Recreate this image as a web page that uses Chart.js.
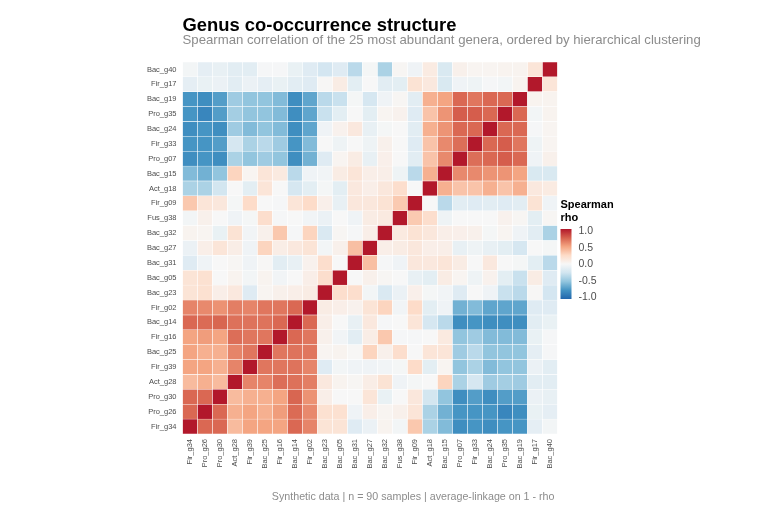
<!DOCTYPE html>
<html>
<head>
<meta charset="utf-8">
<script src="https://cdn.jsdelivr.net/npm/chart.js@4.4.1/dist/chart.umd.min.js"></script>
<style>
  html, body { margin: 0; padding: 0; background: #ffffff; }
</style>
</head>
<body>
<canvas id="heat" width="760" height="506"></canvas>
<script>
// Genera in clustering order (left to right, bottom to top)
const genera = [
  'Fir_g34', 'Pro_g26', 'Pro_g30', 'Act_g28', 'Fir_g39', 'Bac_g25', 'Fir_g16', 'Bac_g14', 'Fir_g02',
  'Bac_g23', 'Bac_g05', 'Bac_g31', 'Bac_g27', 'Bac_g32', 'Fus_g38', 'Fir_g09', 'Act_g18',
  'Bac_g15', 'Pro_g07', 'Fir_g33', 'Bac_g24', 'Pro_g35', 'Bac_g19', 'Fir_g17', 'Bac_g40'
];

// Lower triangle of the Spearman matrix: row r holds rho(r, 0..r)
const rhoLower = [
  [1],
  [0.72, 1],
  [0.72, 0.72, 1],
  [0.40, 0.45, 0.40, 1],
  [0.50, 0.50, 0.45, 0.62, 1],
  [0.50, 0.45, 0.45, 0.62, 0.67, 1],
  [0.50, 0.53, 0.50, 0.70, 0.67, 0.67, 1],
  [0.72, 0.71, 0.73, 0.69, 0.68, 0.68, 0.72, 1],
  [0.62, 0.60, 0.57, 0.64, 0.62, 0.67, 0.67, 0.72, 1],
  [0.17, 0.20, 0.08, 0.13, -0.16, 0.03, 0.06, 0.08, 0.10, 1],
  [0.17, 0.20, 0.00, 0.04, -0.03, 0.04, -0.04, 0.00, 0.08, 0.22, 1],
  [-0.16, -0.05, 0.00, 0.02, -0.05, 0.01, -0.14, -0.10, 0.05, 0.22, 0.00, 1],
  [-0.08, 0.08, 0.16, 0.09, -0.05, 0.28, 0.09, 0.13, 0.17, -0.03, 0.06, 0.38, 1],
  [0.04, 0.03, -0.09, 0.18, -0.04, 0.06, 0.34, -0.01, 0.28, -0.19, 0.02, -0.01, 0.08, 1],
  [-0.03, 0.06, 0.00, -0.05, -0.02, 0.22, -0.01, 0.00, -0.04, -0.08, 0.00, -0.05, 0.10, 0.12, 1],
  [0.34, 0.16, 0.14, -0.02, 0.24, 0.00, -0.01, 0.16, 0.24, 0.07, -0.10, 0.14, 0.14, 0.18, 0.33, 1],
  [-0.40, -0.40, -0.24, 0.00, -0.13, 0.16, 0.00, -0.22, -0.13, -0.02, -0.13, 0.13, 0.08, 0.14, 0.22, 0.00, 1],
  [-0.55, -0.60, -0.50, 0.28, 0.03, 0.16, 0.12, -0.34, -0.05, -0.04, 0.10, 0.16, 0.08, 0.08, -0.06, -0.34, 0.45, 1],
  [-0.78, -0.74, -0.78, -0.40, -0.50, -0.45, -0.50, -0.78, -0.60, -0.16, 0.03, 0.10, -0.10, 0.07, 0.00, -0.14, 0.36, 0.60, 1],
  [-0.74, -0.74, -0.70, -0.22, -0.40, -0.34, -0.45, -0.74, -0.55, 0.00, -0.06, 0.00, -0.06, 0.06, 0.00, -0.16, 0.36, 0.60, 0.70, 1],
  [-0.78, -0.74, -0.78, -0.45, -0.55, -0.50, -0.55, -0.78, -0.66, -0.05, 0.05, 0.13, -0.10, -0.02, 0.00, -0.14, 0.45, 0.56, 0.72, 0.72, 1],
  [-0.74, -0.82, -0.70, -0.43, -0.50, -0.50, -0.55, -0.78, -0.66, -0.28, -0.13, 0.00, -0.13, 0.03, 0.05, -0.16, 0.36, 0.56, 0.76, 0.76, 0.72, 1],
  [-0.74, -0.78, -0.70, -0.45, -0.50, -0.50, -0.55, -0.78, -0.66, -0.34, -0.28, -0.02, -0.22, -0.05, 0.02, -0.14, 0.45, 0.50, 0.72, 0.67, 0.72, 0.72, 1],
  [-0.12, -0.09, -0.08, -0.14, -0.08, -0.12, -0.09, -0.14, -0.16, 0.01, 0.10, -0.13, 0.00, -0.14, -0.13, 0.18, 0.13, -0.20, -0.05, -0.06, -0.01, -0.03, 0.04, 1],
  [-0.03, -0.12, -0.10, -0.14, -0.14, -0.01, -0.01, -0.09, -0.16, -0.23, -0.16, -0.34, -0.02, -0.40, 0.02, -0.05, 0.11, -0.20, 0.06, 0.03, 0.03, 0.04, 0.04, 0.16, 1]
];

// Colour bar ticks
const legendTicks = [1.0, 0.5, 0.0, -0.5, -1.0];

// Texts
const titleText = 'Genus co-occurrence structure';
const subtitleText = 'Spearman correlation of the 25 most abundant genera, ordered by hierarchical clustering';
const captionText = 'Synthetic data | n = 90 samples | average-linkage on 1 - rho';
const legendTitle = ['Spearman', 'rho'];

// RdBu, from -1 to 1
const palette = ['#2166ac', '#4393c3', '#92c5de', '#d1e5f0', '#f7f7f7', '#fddbc7', '#f4a582', '#d6604d', '#b2182b'];
const FONT = '"Liberation Sans", Arial, Helvetica, sans-serif';

// symmetric lookup
const rho = (r, c) => (r >= c ? rhoLower[r][c] : rhoLower[c][r]);

const hexToRgb = (h) => [1, 3, 5].map(i => parseInt(h.slice(i, i + 2), 16));

const colorFor = (v) => {
  const t = (Math.max(-1, Math.min(1, v)) + 1) / 2 * (palette.length - 1);
  const i = Math.min(Math.floor(t), palette.length - 2);
  const f = t - i;
  const a = hexToRgb(palette[i]);
  const b = hexToRgb(palette[i + 1]);
  const m = a.map((x, k) => Math.round(x + (b[k] - x) * f));
  return `rgb(${m[0]}, ${m[1]}, ${m[2]})`;
};

// One dataset per row; each bar floats over its own row band
const datasets = genera.map((g, r) => ({
  label: g,
  data: genera.map(() => [r, r + 1]),
  backgroundColor: (ctx) => colorFor(rho(r, ctx.dataIndex)),
  borderColor: '#ffffff',
  borderWidth: 0.5,
  borderSkipped: false,
  categoryPercentage: 1,
  barPercentage: 1,
  grouped: false
}));

// Titles, caption and colour bar legend
const decorations = {
  id: 'decorations',
  afterDraw(chart) {
    const { ctx, chartArea } = chart;
    ctx.save();
    ctx.textAlign = 'left';
    ctx.textBaseline = 'alphabetic';

    ctx.fillStyle = '#000000';
    ctx.font = `bold 18.4px ${FONT}`;
    ctx.fillText(titleText, chartArea.left, 31);

    ctx.fillStyle = '#8c8c8c';
    ctx.font = `13.2px ${FONT}`;
    ctx.fillText(subtitleText, chartArea.left, 44);

    ctx.textAlign = 'right';
    ctx.font = `10.7px ${FONT}`;
    ctx.fillText(captionText, chartArea.right - 3, 499.5);

    // legend
    const lx = chartArea.right + 3;
    ctx.textAlign = 'left';
    ctx.fillStyle = '#000000';
    ctx.font = `bold 11px ${FONT}`;
    ctx.fillText(legendTitle[0], lx, 208);
    ctx.fillText(legendTitle[1], lx, 221);

    const barTop = 229, barBottom = 299, barW = 11;
    const grad = ctx.createLinearGradient(0, barBottom, 0, barTop);
    palette.forEach((c, i) => grad.addColorStop(i / (palette.length - 1), c));
    ctx.fillStyle = grad;
    ctx.fillRect(lx, barTop, barW, barBottom - barTop);

    const tTop = 231.5, tBottom = 297;
    ctx.fillStyle = '#4d4d4d';
    ctx.font = `10.5px ${FONT}`;
    ctx.textBaseline = 'middle';
    legendTicks.forEach(v => {
      const y = tTop + (1 - v) / 2 * (tBottom - tTop);
      ctx.fillText(v.toFixed(1), lx + 18, y);
    });
    ctx.restore();
  }
};

new Chart(document.getElementById('heat'), {
  type: 'bar',
  data: { labels: genera, datasets: datasets },
  options: {
    responsive: false,
    animation: false,
    layout: { padding: { top: 62, right: 202.5, bottom: 0, left: 0 } },
    plugins: {
      legend: { display: false },
      tooltip: { enabled: false },
      title: { display: false }
    },
    scales: {
      x: {
        type: 'category',
        offset: true,
        grid: { display: false, drawTicks: false },
        border: { display: false },
        ticks: {
          autoSkip: false,
          maxRotation: 90,
          minRotation: 90,
          padding: 5,
          color: '#4d4d4d',
          font: { family: FONT, size: 7.5 }
        },
        afterFit: (scale) => { scale.height = 72; }
      },
      y: {
        type: 'linear',
        min: 0,
        max: 25,
        grid: { display: false, drawTicks: false },
        border: { display: false },
        afterBuildTicks: (scale) => {
          scale.ticks = genera.map((g, i) => ({ value: i + 0.5 }));
        },
        ticks: {
          autoSkip: false,
          padding: 6,
          color: '#4d4d4d',
          font: { family: FONT, size: 7.5 },
          callback: (v) => genera[Math.floor(v)]
        },
        afterFit: (scale) => { scale.width = 182.5; }
      }
    }
  },
  plugins: [decorations]
});
</script>
</body>
</html>
